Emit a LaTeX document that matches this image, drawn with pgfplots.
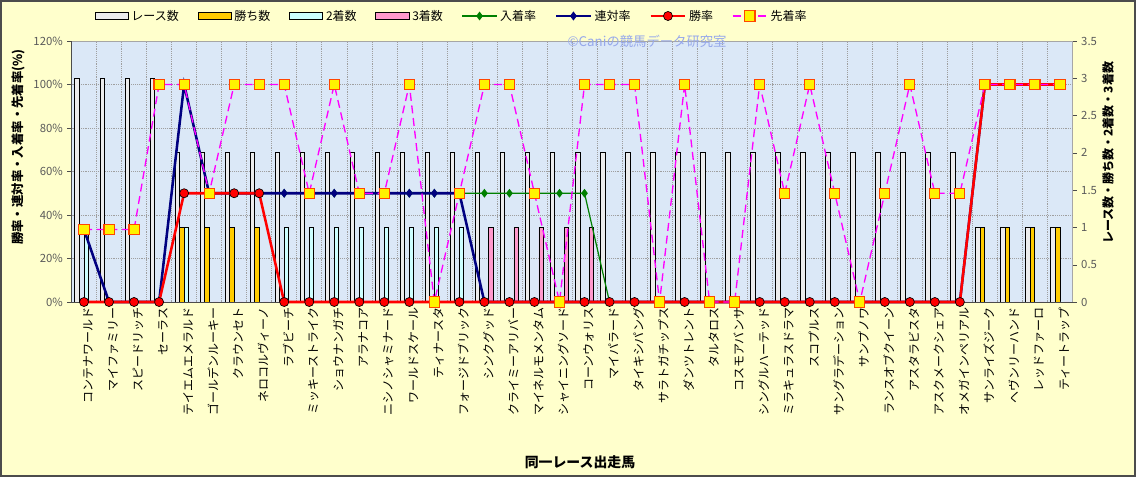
\documentclass[border=0pt]{standalone}
\usepackage{fontspec}
\setmainfont{Noto Sans CJK JP}
\usepackage{pgfplots}
\usepackage{pgfplotstable}
\pgfplotsset{compat=1.18}

\definecolor{bgyellow}{RGB}{255,255,204}
\definecolor{plotblue}{RGB}{219,232,247}
\definecolor{racegray}{RGB}{236,236,236}
\definecolor{wingold}{RGB}{255,204,0}
\definecolor{secondcyan}{RGB}{204,255,255}
\definecolor{thirdpink}{RGB}{255,153,204}
\definecolor{placegreen}{RGB}{0,128,0}
\definecolor{rennavy}{RGB}{0,0,128}
\definecolor{senmag}{RGB}{255,0,255}
\definecolor{sqedge}{RGB}{255,70,0}
\definecolor{wmblue}{RGB}{150,168,235}
\definecolor{ticktext}{RGB}{90,90,90}

% x race win second third place rentai winrate senchaku
\pgfplotstableread{
x race win second third place rentai winrate sen
1 3 0 1 0 33.3 33.3 0 33.3
2 3 0 0 0 0 0 0 33.3
3 3 0 0 0 0 0 0 33.3
4 3 0 0 0 0 0 0 100
5 2 1 1 0 100 100 50 100
6 2 1 0 0 50 50 50 50
7 2 1 0 0 50 50 50 100
8 2 1 0 0 50 50 50 100
9 2 0 1 0 50 50 0 100
10 2 0 1 0 50 50 0 50
11 2 0 1 0 50 50 0 100
12 2 0 1 0 50 50 0 50
13 2 0 1 0 50 50 0 50
14 2 0 1 0 50 50 0 100
15 2 0 1 0 50 50 0 0
16 2 0 1 0 50 50 0 50
17 2 0 0 1 50 0 0 100
18 2 0 0 1 50 0 0 100
19 2 0 0 1 50 0 0 50
20 2 0 0 1 50 0 0 0
21 2 0 0 1 50 0 0 100
22 2 0 0 0 0 0 0 100
23 2 0 0 0 0 0 0 100
24 2 0 0 0 0 0 0 0
25 2 0 0 0 0 0 0 100
26 2 0 0 0 0 0 0 0
27 2 0 0 0 0 0 0 0
28 2 0 0 0 0 0 0 100
29 2 0 0 0 0 0 0 50
30 2 0 0 0 0 0 0 100
31 2 0 0 0 0 0 0 50
32 2 0 0 0 0 0 0 0
33 2 0 0 0 0 0 0 50
34 2 0 0 0 0 0 0 100
35 2 0 0 0 0 0 0 50
36 2 0 0 0 0 0 0 50
37 1 1 0 0 100 100 100 100
38 1 1 0 0 100 100 100 100
39 1 1 0 0 100 100 100 100
40 1 1 0 0 100 100 100 100
}\horses

\pgfplotsset{
  barlegend/.style={legend image code/.code={\draw[##1] (0pt,-2.3pt) rectangle (25pt,2.3pt);}},
  linelegend/.style={legend image code/.code={\draw[mark repeat=2,mark phase=2,##1] plot coordinates {(0pt,0pt) (13pt,0pt) (26pt,0pt)};}},
  frame/.style={at={(53.625pt,131.25pt)}, anchor=south west, scale only axis,
    width=750.75pt, height=195.75pt, xmin=0.5, xmax=40.5},
}

\begin{document}
\begin{tikzpicture}
\path[use as bounding box] (0,0) rectangle (852pt,357.75pt);
\draw[line width=1.5pt, black!70, fill=bgyellow] (0.75pt,0.75pt) rectangle (851.25pt,357pt);

% counts on the right axis
\begin{axis}[frame,
  ymin=0, ymax=3.5,
  axis background/.style={fill=plotblue},
  axis line style={gray!70},
  xtick={1.5,2.5,...,39.5}, xticklabels={}, xmajorgrids, x tick style={draw=none},
  ytick={0,0.5,...,3.5}, yticklabels={0,0.5,1,1.5,2,2.5,3,3.5},
  ytick pos=right, yticklabel pos=right,
  tick align=outside, major tick length=3pt, y tick style={black!70},
  extra y ticks={0.58333,1.16667,1.75,2.33333,2.91667},
  extra y tick labels={},
  extra y tick style={ymajorgrids=true, tick style={draw=none}},
  grid style={densely dotted, gray!75},
  yticklabel style={font=\fontsize{8.5pt}{10pt}\selectfont, text=ticktext},
]
\addplot[ybar, bar width=3.4pt, bar shift=-5.1pt, draw=black, fill=racegray, line width=0.7pt] table[x=x,y=race]{\horses};
\addplot[ybar, bar width=3.4pt, bar shift=-1.7pt, draw=black, fill=wingold, line width=0.7pt] table[x=x,y=win]{\horses};
\addplot[ybar, bar width=3.4pt, bar shift=1.7pt, draw=black, fill=secondcyan, line width=0.7pt] table[x=x,y=second]{\horses};
\addplot[ybar, bar width=3.4pt, bar shift=5.1pt, draw=black, fill=thirdpink, line width=0.7pt] table[x=x,y=third]{\horses};
\end{axis}

% rates on the left axis
\begin{axis}[frame,
  ymin=0, ymax=120,
  axis x line*=bottom, axis y line*=left, axis line style={-, black!70},
  xtick={1,...,40},
  xticklabels={コンテナワールド,マイファミリー,スピードリッチ,セーラス,テイエムエメラルド,ゴールデンルーキー,クラウンセト,ネロコルヴィーノ,ラブビーチ,ミッキーストライク,ショウナンガチ,アラナコア,ニシノシャミナード,ワールドスケール,ティナースタ,フォージドブリック,シンクグッド,クライミーアリバー,マイネルモメンタム,シャイニングソード,コーンウォリス,マイパラード,タイキシパング,サラトガチップス,ダンツトレント,タルタロス,コスモアバンサ,シングルハーテッド,ミラキュラスドラマ,スコプルス,サングラデーション,サンプノワ,ランスオブクイーン,アスタラビスタ,アスクメークシェア,オメガインペリアル,サンライズジーク,ヘヴンリーハンド,レッドファーロ,ティートラップ},
  x tick style={draw=none},
  xticklabel style={rotate=90, anchor=east, font=\fontsize{9pt}{10pt}\selectfont, inner sep=1pt, yshift=-3pt},
  ytick={0,20,...,120}, yticklabels={0\%,20\%,40\%,60\%,80\%,100\%,120\%},
  tick align=outside, major tick length=3pt, y tick style={black!70},
  yticklabel style={font=\fontsize{8.5pt}{10pt}\selectfont, text=ticktext},
  clip=false,
  linelegend,
  legend columns=8,
  legend cell align=left,
  legend style={at={(rel axis cs:0.38,1.0958)}, anchor=center, draw=none, fill=none,
    font=\fontsize{9pt}{10pt}\selectfont,
    /tikz/every even column/.append style={column sep=12pt}},
  legend entries={レース数,勝ち数,2着数,3着数,入着率,連対率,勝率,先着率},
]
\addlegendimage{barlegend, draw=black, fill=racegray, line width=0.7pt}
\addlegendimage{barlegend, draw=black, fill=wingold, line width=0.7pt}
\addlegendimage{barlegend, draw=black, fill=secondcyan, line width=0.7pt}
\addlegendimage{barlegend, draw=black, fill=thirdpink, line width=0.7pt}
\addplot[placegreen, line width=0.9pt, mark=diamond*, mark size=2.6pt, mark options={fill=placegreen, draw=placegreen}] table[x=x,y=place]{\horses};
\addplot[rennavy, line width=1.9pt, mark=diamond*, mark size=3pt, mark options={fill=rennavy, draw=rennavy, line width=0.5pt}] table[x=x,y=rentai]{\horses};
\addplot[red, line width=1.9pt, mark=*, mark size=3.4pt, mark options={fill=red, draw=black, line width=0.5pt}] table[x=x,y=winrate]{\horses};
\addplot[senmag, line width=1pt, dash pattern=on 6pt off 3.5pt, mark=square*, mark size=3.8pt, mark options={fill=yellow, draw=sqedge, solid, line width=0.8pt}] table[x=x,y=sen]{\horses};
\node[text=wmblue, font=\fontsize{10pt}{12pt}\selectfont] at (rel axis cs:0.575,1.0) {©Caniの競馬データ研究室};
\node[rotate=90, font=\fontsize{9.3pt}{11pt}\selectfont\bfseries] at (rel axis cs:-0.0534,0.594) {勝率・連対率・入着率・先着率(\%)};
\node[rotate=90, font=\fontsize{9pt}{11pt}\selectfont\bfseries] at (rel axis cs:1.0355,0.571) {レース数・勝ち数・2着数・3着数};
\node[font=\fontsize{10.4pt}{12pt}\selectfont\bfseries] at (rel axis cs:0.508,-0.613) {同一レース出走馬};
\end{axis}
\end{tikzpicture}
\end{document}
